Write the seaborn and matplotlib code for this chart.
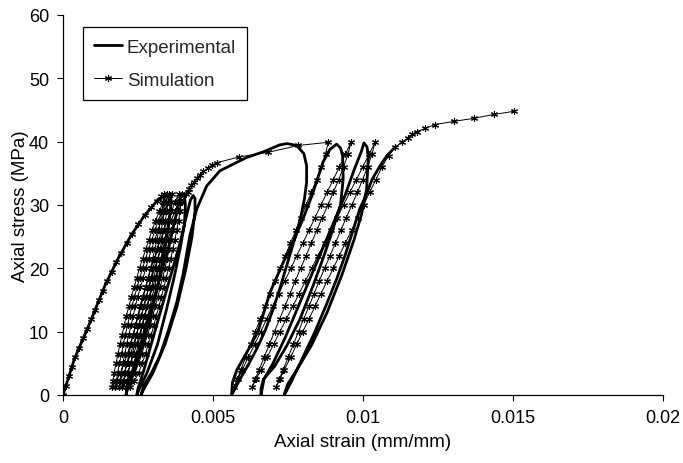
import matplotlib
matplotlib.use("Agg")
import matplotlib.pyplot as plt
import numpy as np
import pandas as pd
import seaborn as sns

# ---------------- Experimental curve (thick line), branch by branch ----------------
exp_load0_strain = [0, 0.00038, 0.00081, 0.0014, 0.00183, 0.00227, 0.00271, 0.00314, 0.0034, 0.00352]
exp_load0_stress = [0, 5.7, 10.4, 17.3, 21.5, 25.2, 28.3, 30.7, 31.5, 31.6]
exp_unl1_strain = [0.0036, 0.00358, 0.0035, 0.00335, 0.00315, 0.0029, 0.0026, 0.00232, 0.00215, 0.0021]
exp_unl1_stress = [31, 29, 26, 22, 17, 12, 7, 3, 1, 0]
exp_rel1_strain = [0.00215, 0.00235, 0.0026, 0.0029, 0.0032, 0.0035, 0.0037, 0.00385, 0.00396]
exp_rel1_stress = [1.5, 4, 8, 13, 18, 23, 27, 30, 31.8]
exp_unl2_strain = [0.00405, 0.00408, 0.00405, 0.0039, 0.0037, 0.00345, 0.00315, 0.0028, 0.00255, 0.00246]
exp_unl2_stress = [31.5, 30, 27, 23, 18.5, 13.5, 8, 3.5, 1, 0]
exp_rel2_strain = [0.0025, 0.0027, 0.003, 0.0033, 0.0036, 0.0039, 0.0041, 0.00425, 0.00434]
exp_rel2_stress = [1, 4, 9, 14, 19, 24, 28, 30.8, 31.5]
exp_unl3_strain = [0.0044, 0.0044, 0.0043, 0.0041, 0.0038, 0.0034, 0.003, 0.0027, 0.0026]
exp_unl3_stress = [31, 29, 25, 20, 14, 8, 3.5, 1, 0]
exp_rel3_strain = [0.0027, 0.00295, 0.00323, 0.0035, 0.00379, 0.004, 0.00423, 0.00446, 0.00479,
                   0.00523, 0.00557, 0.00612, 0.00668, 0.00723, 0.00746, 0.00779, 0.00803, 0.00812, 0.00812]
exp_rel3_stress = [1.5, 3.5, 6.2, 10, 14.6, 19, 25.2, 29.4, 33,
                   35.4, 36.2, 37.5, 38.4, 39.5, 39.7, 39.4, 38.1, 36.2, 33.6]
exp_unl4_strain = [0.00805, 0.00792, 0.00779, 0.00762, 0.00746, 0.00724, 0.00701, 0.00675, 0.00646,
                   0.00618, 0.0059, 0.00573, 0.00562]
exp_unl4_stress = [31, 28, 25.7, 23, 20.4, 17, 13.6, 10.3, 7.3, 4.8, 2.5, 1, 0]
exp_rel4_strain = [0.00565, 0.0058, 0.0061, 0.0065, 0.0069, 0.0073, 0.0077, 0.008, 0.0083, 0.00867, 0.0089, 0.00912]
exp_rel4_stress = [2, 4, 6.5, 10, 16.2, 20.5, 24.5, 27.8, 31.5, 36.8, 38.8, 39.6]
exp_unl5_strain = [0.00925, 0.00932, 0.00934, 0.00925, 0.009, 0.0087, 0.00834, 0.0079, 0.00746,
                   0.00705, 0.00668, 0.0066, 0.0066]
exp_unl5_stress = [39, 37.8, 34.1, 30, 26.2, 22, 17.3, 12, 7.8, 4.5, 2.5, 1, 0]
exp_rel5_strain = [0.0067, 0.007, 0.0074, 0.0078, 0.0082, 0.0086, 0.009, 0.0094, 0.0097, 0.00995, 0.01003]
exp_rel5_stress = [2.5, 5, 9, 13.5, 18, 22.5, 27, 31.5, 35.5, 38.5, 39.8]
exp_unl6_strain = [0.01013, 0.01018, 0.01012, 0.00995, 0.0097, 0.0093, 0.0088, 0.0083, 0.0078, 0.0075, 0.0074, 0.00738]
exp_unl6_stress = [39.2, 37.8, 32.5, 28.5, 24.5, 19, 13, 8, 4, 1.8, 0.5, 0]
exp_rel6_strain = [0.0076, 0.008, 0.0084, 0.0088, 0.00912, 0.0094, 0.00968, 0.0099, 0.0101, 0.0103,
                   0.01057, 0.0108, 0.011, 0.0111]
exp_rel6_stress = [2, 6, 10, 14.5, 18.3, 22, 26.2, 29.5, 31.5, 34, 36.2, 37.8, 38.8, 39.2]

# ---------------- Simulation curve (thin line with star markers) ----------------
sim_env0_strain = [0, 0.0001, 0.0002, 0.0003, 0.0004, 0.00052, 0.00065, 0.00079, 0.00093, 0.00107,
                   0.00121, 0.00134, 0.00147, 0.00162, 0.00178, 0.00194, 0.00212, 0.00231, 0.00251,
                   0.00274, 0.00294, 0.00314, 0.00327, 0.00337]
sim_env0_stress = [0, 1.5, 3, 4.5, 6, 7.5, 9, 10.5, 12, 13.5, 15, 16.5, 18, 19.5, 21, 22.5, 24, 25.5,
                   27, 28.5, 29.7, 30.7, 31.4, 31.7]
# first group of cycles: strains read at these stress levels (top -> bottom)
sim_lvl1 = [31.7, 30.5, 29, 27.5, 26, 24.5, 23, 21.5, 20, 18.5, 17, 15.5, 14, 12.5, 11, 9.5, 8, 6.5, 5, 3.5, 2.2, 1.2]
sim_unl1 = [0.00337, 0.00334, 0.0033, 0.00325, 0.00319, 0.00313, 0.00306, 0.00299, 0.00292, 0.00284, 0.00276,
            0.00268, 0.0026, 0.00251, 0.00243, 0.00234, 0.00224, 0.00215, 0.00204, 0.00192, 0.00178, 0.00162]
sim_rel1 = [0.00345, 0.00334, 0.00321, 0.00308, 0.00297, 0.00286, 0.00276, 0.00265, 0.00255, 0.00246, 0.00237,
            0.00228, 0.0022, 0.00211, 0.00204, 0.00197, 0.0019, 0.00183, 0.00177, 0.0017, 0.00166, 0.00162]
sim_unl2 = [0.00345, 0.00342, 0.00338, 0.00333, 0.00327, 0.00321, 0.00314, 0.00307, 0.00301, 0.00293, 0.00285,
            0.00278, 0.0027, 0.00261, 0.00253, 0.00244, 0.00235, 0.00225, 0.00215, 0.00203, 0.00189, 0.00174]
sim_rel2 = [0.00353, 0.00342, 0.0033, 0.00317, 0.00307, 0.00296, 0.00285, 0.00275, 0.00265, 0.00256, 0.00247,
            0.00238, 0.0023, 0.00222, 0.00215, 0.00208, 0.00201, 0.00195, 0.00188, 0.00182, 0.00178, 0.00174]
sim_unl3 = [0.00353, 0.0035, 0.00346, 0.00341, 0.00336, 0.0033, 0.00323, 0.00316, 0.0031, 0.00302, 0.00295,
            0.00287, 0.0028, 0.00271, 0.00263, 0.00255, 0.00245, 0.00236, 0.00226, 0.00214, 0.00201, 0.00186]
sim_rel3 = [0.00362, 0.00351, 0.00339, 0.00327, 0.00316, 0.00306, 0.00295, 0.00285, 0.00276, 0.00267, 0.00258,
            0.00249, 0.00241, 0.00234, 0.00227, 0.00219, 0.00212, 0.00206, 0.002, 0.00194, 0.0019, 0.00186]
sim_unl4 = [0.00362, 0.0036, 0.00355, 0.00351, 0.00345, 0.00339, 0.00333, 0.00326, 0.00319, 0.00312, 0.00305,
            0.00297, 0.0029, 0.00282, 0.00273, 0.00265, 0.00256, 0.00247, 0.00237, 0.00226, 0.00213, 0.00198]
sim_rel4 = [0.00385, 0.00374, 0.00361, 0.00348, 0.00336, 0.00325, 0.00314, 0.00304, 0.00293, 0.00284, 0.00275,
            0.00265, 0.00257, 0.00249, 0.00241, 0.00234, 0.00226, 0.0022, 0.00213, 0.00206, 0.00202, 0.00198]
sim_unl5 = [0.00385, 0.00382, 0.00378, 0.00373, 0.00367, 0.00361, 0.00354, 0.00347, 0.0034, 0.00332, 0.00324,
            0.00316, 0.00308, 0.00299, 0.00291, 0.00282, 0.00272, 0.00263, 0.00252, 0.0024, 0.00226, 0.0021]
sim_rel5 = [0.00397, 0.00386, 0.00373, 0.0036, 0.00348, 0.00337, 0.00326, 0.00316, 0.00305, 0.00296, 0.00287,
            0.00277, 0.00269, 0.00261, 0.00253, 0.00246, 0.00238, 0.00232, 0.00225, 0.00218, 0.00214, 0.0021]
sim_unl6 = [0.00397, 0.00394, 0.0039, 0.00385, 0.00379, 0.00373, 0.00366, 0.00359, 0.00352, 0.00344, 0.00336,
            0.00328, 0.0032, 0.00311, 0.00303, 0.00294, 0.00284, 0.00275, 0.00264, 0.00252, 0.00238, 0.00222]
sim_rel6 = [0.00409, 0.00398, 0.00385, 0.00372, 0.0036, 0.00349, 0.00338, 0.00328, 0.00317, 0.00308, 0.00299,
            0.00289, 0.00281, 0.00273, 0.00265, 0.00258, 0.0025, 0.00244, 0.00237, 0.0023, 0.00226, 0.00222]
sim_env1_strain = [0.00415, 0.0042, 0.00428, 0.00437, 0.00446, 0.00456, 0.00468, 0.00482, 0.00497, 0.00514,
                   0.00588, 0.00682, 0.00784, 0.00884]
sim_env1_stress = [32, 32.5, 33.1, 33.7, 34.2, 34.7, 35.3, 35.8, 36.3, 36.7, 37.6, 38.3, 39.4, 39.9]
# second group of cycles (top -> bottom)
sim_lvl2 = [39.9, 38, 36, 34, 32, 30, 28, 26, 24, 22, 20, 18, 16, 14, 12, 10, 8, 6, 4, 2.5, 1.2]
sim_unlA = [0.00884, 0.00875, 0.0086, 0.00845, 0.00828, 0.0081, 0.00793, 0.00776, 0.00758, 0.00741, 0.00724,
            0.00707, 0.00691, 0.00674, 0.00658, 0.00641, 0.00625, 0.00609, 0.00593, 0.00581, 0.0057]
sim_relA = [0.0096, 0.00941, 0.00921, 0.00901, 0.0088, 0.0086, 0.0084, 0.0082, 0.008, 0.00779, 0.0076,
            0.00739, 0.00719, 0.00699, 0.00679, 0.00659, 0.00639, 0.00618, 0.00598, 0.00583, 0.0057]
sim_unlB = [0.0096, 0.0095, 0.00935, 0.00919, 0.00901, 0.00883, 0.00864, 0.00846, 0.00828, 0.0081, 0.00792,
            0.00774, 0.00757, 0.0074, 0.00722, 0.00705, 0.00688, 0.00671, 0.00654, 0.00641, 0.0063]
sim_relB = [0.0104, 0.0102, 0.00999, 0.00978, 0.00956, 0.00935, 0.00914, 0.00893, 0.00872, 0.0085, 0.00829,
            0.00808, 0.00787, 0.00766, 0.00744, 0.00723, 0.00702, 0.00681, 0.0066, 0.00644, 0.0063]
sim_unlC = [0.0104, 0.0103, 0.01015, 0.00999, 0.00981, 0.00963, 0.00944, 0.00926, 0.00908, 0.0089, 0.00872,
            0.00854, 0.00837, 0.0082, 0.00802, 0.00785, 0.00768, 0.00751, 0.00734, 0.00721, 0.0071]
sim_relC_strain = [0.00723, 0.00738, 0.00759, 0.00779, 0.00799, 0.0082, 0.0084, 0.0086, 0.0088, 0.00901,
                   0.00921, 0.00941, 0.00962, 0.00982, 0.01002, 0.01022, 0.01043, 0.01063, 0.01085, 0.01107,
                   0.01131, 0.01151, 0.01164, 0.01181, 0.01207, 0.0124, 0.01303, 0.01371, 0.01437, 0.01504]
sim_relC_stress = [2.5, 4, 6, 8, 10, 12, 14, 16, 18, 20, 22, 24, 26, 28, 30, 32, 34, 36, 37.8, 39.1,
                   40, 40.6, 41.2, 41.6, 42.1, 42.7, 43.2, 43.7, 44.3, 44.8]

# ---------------- assemble the paths ----------------
exp_x = (exp_load0_strain + exp_unl1_strain + exp_rel1_strain + exp_unl2_strain + exp_rel2_strain
         + exp_unl3_strain + exp_rel3_strain + exp_unl4_strain + exp_rel4_strain + exp_unl5_strain
         + exp_rel5_strain + exp_unl6_strain + exp_rel6_strain)
exp_y = (exp_load0_stress + exp_unl1_stress + exp_rel1_stress + exp_unl2_stress + exp_rel2_stress
         + exp_unl3_stress + exp_rel3_stress + exp_unl4_stress + exp_rel4_stress + exp_unl5_stress
         + exp_rel5_stress + exp_unl6_stress + exp_rel6_stress)

sim_x = list(sim_env0_strain)
sim_y = list(sim_env0_stress)
for u, r in [(sim_unl1, sim_rel1), (sim_unl2, sim_rel2), (sim_unl3, sim_rel3),
             (sim_unl4, sim_rel4), (sim_unl5, sim_rel5), (sim_unl6, sim_rel6)]:
    sim_x += u[1:] + r[::-1][1:]
    sim_y += sim_lvl1[1:] + sim_lvl1[::-1][1:]
sim_x += sim_env1_strain
sim_y += sim_env1_stress
for u, r in [(sim_unlA, sim_relA), (sim_unlB, sim_relB)]:
    sim_x += u[1:] + r[::-1][1:]
    sim_y += sim_lvl2[1:] + sim_lvl2[::-1][1:]
sim_x += sim_unlC[1:] + sim_relC_strain
sim_y += sim_lvl2[1:] + sim_relC_stress

df_exp = pd.DataFrame({"strain": exp_x, "stress": exp_y})
df_sim = pd.DataFrame({"strain": sim_x, "stress": sim_y})

# ---------------- drawing ----------------
sns.set_theme(style="ticks")
plt.rcParams["font.family"] = ["Liberation Sans", "DejaVu Sans"]

fig = plt.figure(figsize=(6.83, 4.64), dpi=100)
ax = fig.add_axes([63 / 683, 68 / 464, 600 / 683, 380 / 464])

sns.lineplot(data=df_exp, x="strain", y="stress", sort=False, estimator=None, ax=ax,
             color="black", linewidth=2.0, label="Experimental", solid_joinstyle="round")
sns.lineplot(data=df_sim, x="strain", y="stress", sort=False, estimator=None, ax=ax,
             color="black", linewidth=0.7, marker=(6, 2, 0), markersize=5,
             markeredgewidth=0.8, markeredgecolor="black", label="Simulation")

ax.set_xlim(0, 0.02)
ax.set_ylim(0, 60)
ax.set_xticks([0, 0.005, 0.01, 0.015, 0.02])
ax.set_xticklabels(["0", "0.005", "0.01", "0.015", "0.02"])
ax.set_yticks([0, 10, 20, 30, 40, 50, 60])
ax.tick_params(axis="both", direction="out", length=4, width=0.8, colors="black",
               labelsize=13, pad=6)
for s in ["top", "right"]:
    ax.spines[s].set_visible(False)
for s in ["left", "bottom"]:
    ax.spines[s].set_color("black")
    ax.spines[s].set_linewidth(0.9)

ax.set_xlabel("Axial strain (mm/mm)", fontsize=13.5, color="black", labelpad=5)
ax.set_ylabel("Axial stress (MPa)", fontsize=13.5, color="black")
ax.yaxis.set_label_coords(-0.056, 0.5)

leg = ax.legend(loc="upper left", bbox_to_anchor=(0.033, 0.968), borderaxespad=0,
                frameon=True, fancybox=False, edgecolor="black", framealpha=1,
                fontsize=13.5, handlelength=1.5, handletextpad=0.25, labelspacing=0.85,
                borderpad=0.6)
leg.get_frame().set_linewidth(0.9)

fig.savefig("out.png", dpi=100, facecolor="white")
